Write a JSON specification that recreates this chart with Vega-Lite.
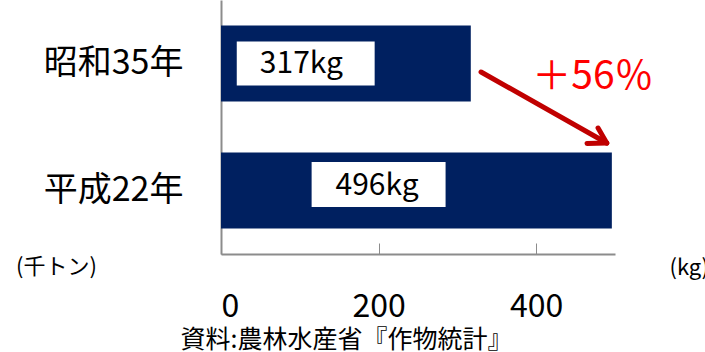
{
  "$schema": "https://vega.github.io/schema/vega-lite/v6.json",
  "width": 394,
  "height": 254,
  "autosize": {"type": "none"},
  "padding": {"left": 221, "top": 0, "right": 90, "bottom": 98},
  "background": "white",
  "config": {"view": {"stroke": null}, "font": "Noto Sans CJK JP"},
  "data": {"values": [
    {"year": "昭和35年", "kg": 317, "label": "317kg"},
    {"year": "平成22年", "kg": 496, "label": "496kg"}
  ]},
  "layer": [
    {
      "encoding": {
        "y": {
          "field": "year", "type": "nominal", "sort": null,
          "scale": {"paddingInner": 0.4, "paddingOuter": 0.2},
          "axis": {
            "title": "(千トン)", "titleAngle": 0, "titleX": -165, "titleY": 266,
            "titleAlign": "center", "titleBaseline": "middle", "titleFontSize": 22,
            "titleFontWeight": "normal", "titleColor": "black", "titleFont": "Noto Sans CJK JP",
            "labelFontSize": 34, "labelColor": "black", "labelPadding": 38, "labelFont": "Noto Sans CJK JP",
            "ticks": false, "domainColor": "#8c8c8c", "domainWidth": 2
          }
        }
      },
      "layer": [
        {
          "mark": {"type": "bar", "color": "#002060"},
          "encoding": {
            "x": {
              "field": "kg", "type": "quantitative",
              "scale": {"domain": [0, 500], "nice": false},
              "axis": {
                "values": [0, 200, 400], "grid": false,
                "title": "資料:農林水産省『作物統計』", "titleX": 125, "titleY": 85,
                "titleAlign": "center", "titleBaseline": "middle", "titleFontSize": 25,
                "titleFontWeight": "normal", "titleColor": "black", "titleFont": "Noto Sans CJK JP",
                "domainColor": "#8c8c8c", "domainWidth": 2,
                "tickColor": "#8c8c8c", "tickWidth": 1, "tickSize": -11,
                "labelFontSize": 32, "labelColor": "black", "labelPadding": 48, "labelFont": "Noto Sans CJK JP"
              }
            }
          }
        },
        {
          "transform": [{"filter": "datum.year == '昭和35年'"}],
          "layer": [
            {
              "mark": {"type": "bar", "color": "white", "height": 44},
              "encoding": {"x": {"datum": 20, "type": "quantitative"}, "x2": {"datum": 195}}
            },
            {
              "mark": {"type": "text", "fontSize": 30, "color": "black", "font": "Noto Sans CJK JP"},
              "encoding": {"x": {"datum": 102, "type": "quantitative"}, "text": {"field": "label"}}
            }
          ]
        },
        {
          "transform": [{"filter": "datum.year == '平成22年'"}],
          "layer": [
            {
              "mark": {"type": "bar", "color": "white", "height": 45, "yOffset": -6},
              "encoding": {"x": {"datum": 115, "type": "quantitative"}, "x2": {"datum": 285}}
            },
            {
              "mark": {"type": "text", "fontSize": 30, "color": "black", "yOffset": -5, "font": "Noto Sans CJK JP"},
              "encoding": {"x": {"datum": 198, "type": "quantitative"}, "text": {"field": "label"}}
            }
          ]
        }
      ]
    },
    {
      "transform": [{"filter": "datum.year == '平成22年'"}],
      "encoding": {
        "y": {
          "type": "quantitative",
          "scale": {"domain": [0, 2], "reverse": true, "nice": false, "zero": false},
          "axis": {
            "orient": "right", "domain": false, "ticks": false, "labels": false, "grid": false,
            "title": "(kg)", "titleAngle": 0, "titleX": 54, "titleY": 267,
            "titleAlign": "left", "titleBaseline": "middle", "titleFontSize": 22,
            "titleFontWeight": "normal", "titleColor": "black", "titleFont": "Noto Sans CJK JP"
          }
        }
      },
      "layer": [
        {
          "mark": {"type": "rule", "color": "#C00000", "strokeWidth": 5, "strokeCap": "round"},
          "encoding": {
            "x": {"datum": 330, "type": "quantitative"}, "x2": {"datum": 489.5},
            "y": {"datum": 0.567, "type": "quantitative"}, "y2": {"datum": 1.126}
          }
        },
        {
          "mark": {"type": "rule", "color": "#C00000", "strokeWidth": 5, "strokeCap": "round"},
          "encoding": {
            "x": {"datum": 489.5, "type": "quantitative"}, "x2": {"datum": 464.5},
            "y": {"datum": 1.126, "type": "quantitative"}, "y2": {"datum": 1.13}
          }
        },
        {
          "mark": {"type": "rule", "color": "#C00000", "strokeWidth": 5, "strokeCap": "round"},
          "encoding": {
            "x": {"datum": 489.5, "type": "quantitative"}, "x2": {"datum": 478.5},
            "y": {"datum": 1.126, "type": "quantitative"}, "y2": {"datum": 1.008}
          }
        },
        {
          "mark": {"type": "text", "fontSize": 39, "color": "#FF0000", "font": "Noto Sans CJK JP", "text": "＋56％"},
          "encoding": {
            "x": {"datum": 472, "type": "quantitative"},
            "y": {"datum": 0.606, "type": "quantitative"}
          }
        }
      ]
    }
  ],
  "resolve": {"scale": {"y": "independent"}, "axis": {"y": "independent"}}
}
